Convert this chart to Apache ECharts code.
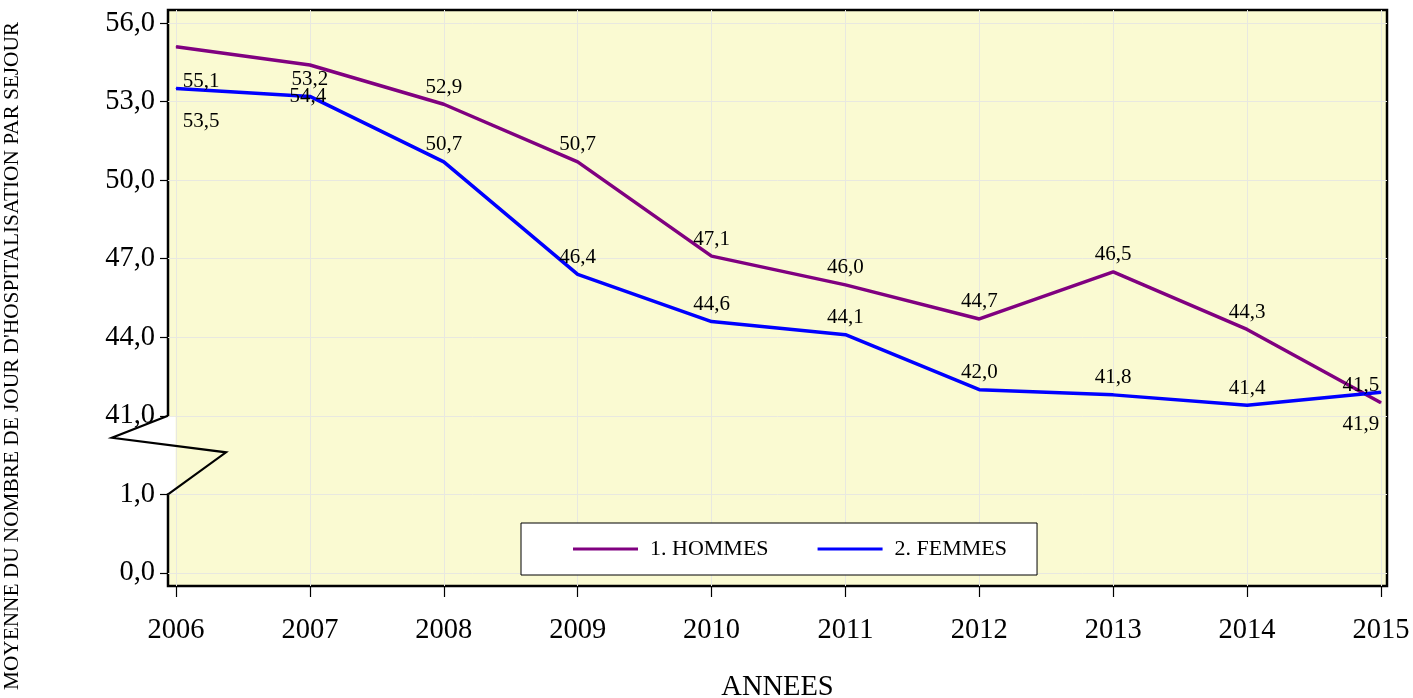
<!DOCTYPE html>
<html>
<head>
<meta charset="utf-8">
<script src="https://cdn.jsdelivr.net/npm/echarts@6/dist/echarts.min.js"></script>
<style>
html,body{margin:0;padding:0;background:#fff;}
#chart{width:1413px;height:698px;}
</style>
</head>
<body>
<div id="chart"></div>
<script>
// ---- Data ----
const years = [2006, 2007, 2008, 2009, 2010, 2011, 2012, 2013, 2014, 2015];
const hommes = [55.1, 54.4, 52.9, 50.7, 47.1, 46.0, 44.7, 46.5, 44.3, 41.5];
const femmes = [53.5, 53.2, 50.7, 46.4, 44.6, 44.1, 42.0, 41.8, 41.4, 41.9];
const seriesNames = ['1. HOMMES', '2. FEMMES'];
// Broken y axis: the two lowest ticks stand for 0,0 and 1,0 below the break
const yTickValues = [35, 38, 41, 44, 47, 50, 53, 56];
const yTickLabels = ['0,0', '1,0', '41,0', '44,0', '47,0', '50,0', '53,0', '56,0'];
const yTitle = "MOYENNE DU NOMBRE DE JOUR D'HOSPITALISATION PAR SEJOUR";
const xTitle = 'ANNEES';

// ---- Layout tweaks for some labels (offsets relative to 'top') ----
const labelTweaks = [
  {0: [25, 52], 1: [-2, 49], 9: [-20, 0]},
  {0: [25, 50], 9: [-20, 49]}
];

const FONT = 'Liberation Serif, Times New Roman, serif';
const fmt = v => v.toFixed(1).replace('.', ',');

function buildData(values, tweaks) {
  return years.map((y, i) => {
    const item = {value: [y, values[i]]};
    if (tweaks[i]) item.label = {offset: tweaks[i]};
    return item;
  });
}

const chart = echarts.init(document.getElementById('chart'));
const colors = ['#800080', '#0000FF'];
const valuesList = [hommes, femmes];

const option = {
  animation: false,
  backgroundColor: '#fff',
  grid: {
    left: 168, top: 10, right: 26, bottom: 112,
    outerBoundsMode: 'none', containLabel: false,
    show: true, backgroundColor: '#FAFAD2', borderColor: '#000', borderWidth: 2.5
  },
  legend: {
    left: 521, top: 523,
    padding: [15, 30, 15, 52],
    backgroundColor: '#fff', borderColor: '#000', borderWidth: 1,
    borderRadius: 0,
    icon: 'rect', itemWidth: 65, itemHeight: 3, itemGap: 49,
    textStyle: {fontFamily: FONT, fontSize: 22, color: '#000', padding: [0, 0, 0, 7]},
    data: seriesNames
  },
  xAxis: {
    type: 'value', min: 2005.94, max: 2015.045,
    name: xTitle, nameLocation: 'middle', nameGap: 87,
    nameTextStyle: {fontFamily: FONT, fontSize: 28.5, color: '#000'},
    axisLine: {show: false},
    axisTick: {show: true, length: 11, customValues: years, lineStyle: {color: '#000', width: 1.2}},
    axisLabel: {customValues: years, formatter: v => String(v), margin: 30,
      fontFamily: FONT, fontSize: 28.5, color: '#000'},
    splitLine: {show: true, lineStyle: {color: '#E8E8E0', width: 1}}
  },
  yAxis: {
    type: 'value', min: 34.5, max: 56.5,
    axisLine: {show: false},
    axisTick: {show: true, length: 8, customValues: yTickValues, lineStyle: {color: '#000', width: 1.2}},
    axisLabel: {customValues: yTickValues,
      formatter: v => { const k = yTickValues.indexOf(Math.round(v)); return k >= 0 ? yTickLabels[k] : ''; },
      margin: 13, fontFamily: FONT, fontSize: 28.5, color: '#000'},
    splitLine: {show: true, lineStyle: {color: '#E8E8E0', width: 1}}
  },
  series: seriesNames.map((name, s) => ({
    name, type: 'line', symbol: 'circle', symbolSize: 1, showSymbol: true,
    data: buildData(valuesList[s], labelTweaks[s]),
    lineStyle: {color: colors[s], width: 3.5},
    itemStyle: {color: colors[s]},
    label: {show: true, position: 'top', distance: 6, formatter: p => fmt(p.value[1]),
      fontFamily: FONT, fontSize: 21, color: '#000'},
    emphasis: {disabled: true}
  }))
};
chart.setOption(option);

// Axis-break decoration, placed from the axis scale
const x0 = chart.convertToPixel({xAxisIndex: 0}, 2005.94);
const xFirst = chart.convertToPixel({xAxisIndex: 0}, years[0]);
const yTop = chart.convertToPixel({yAxisIndex: 0}, 41);
const yBot = chart.convertToPixel({yAxisIndex: 0}, 38);
const gap = yBot - yTop;
chart.setOption({
  graphic: [
    {type: 'rect', z: 100, shape: {x: x0 - 3, y: yTop + 1, width: xFirst - x0 + 2.5, height: gap - 2},
      style: {fill: '#fff'}},
    {type: 'polyline', z: 101,
      shape: {points: [[x0, yTop], [x0 - 56, yTop + gap * 0.28], [x0 + 58, yTop + gap * 0.465], [x0, yBot]]},
      style: {stroke: '#000', lineWidth: 2.2, fill: null}},
    {type: 'text', z: 100, x: 12, y: 356, rotation: Math.PI / 2,
      style: {text: yTitle, fontFamily: FONT, fontSize: 21.3, fill: '#000', align: 'center', verticalAlign: 'middle'}}
  ]
});
</script>
</body>
</html>
